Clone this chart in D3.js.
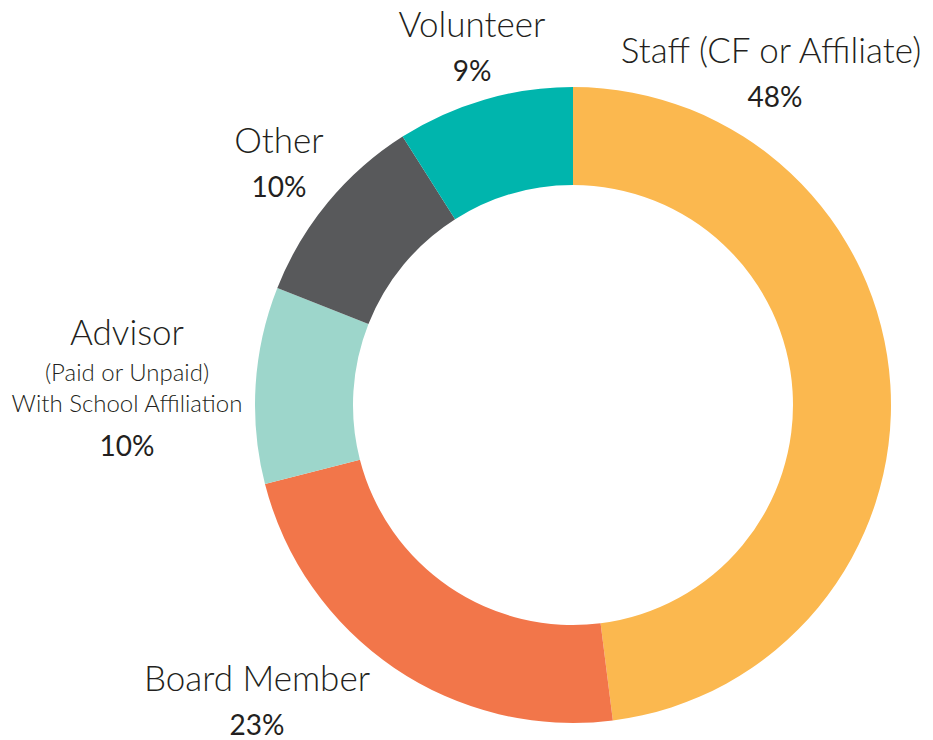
<!DOCTYPE html>
<html>
<head>
<meta charset="utf-8">
<script src="https://cdn.jsdelivr.net/npm/d3@7"></script>
<style>
	body { margin: 0; background: #fff; }
	text { font-family: Lato, "Noto Sans", sans-serif; fill: #231f20; }
</style>
</head>
<body>
<svg id="chart"></svg>
<script>
// slices, clockwise from 12 o'clock
let categories = ['Staff (CF or Affiliate)', 'Board Member', 'Advisor', 'Other', 'Volunteer'];
let values = [48, 23, 10, 10, 9];
let colors = ['#fbb84f', '#f2764a', '#9dd6cb', '#58595b', '#00b5ad'];

// label blocks: title lines, sub lines, percent
let labelLines = [
	['Staff (CF or Affiliate)'],
	['Board Member'],
	['Advisor'],
	['Other'],
	['Volunteer']
];
let subLines = [[], [], ['(Paid or Unpaid)', 'With School Affiliation'], [], []];
let pctLabels = ['48%', '23%', '10%', '10%', '9%'];

let w = 933, h = 740;
let cx = 573, cy = 405;
let outerR = 318, innerR = 220;

let chart = d3.select('#chart')
	.attr('width', w)
	.attr('height', h);

let data = categories.map((c, i) => ({ name: c, value: values[i], color: colors[i], idx: i }));

let pie = d3.pie()
	.sort(null)
	.value((d) => d.value);

let arc = d3.arc()
	.innerRadius(innerR)
	.outerRadius(outerR);

let g = chart.append('g')
	.attr('transform', `translate(${cx},${cy})`);

g.selectAll('path')
	.data(pie(data))
	.enter()
	.append('path')
	.attr('d', arc)
	.attr('fill', (d) => d.data.color);

// label anchor points (centre x, first baseline y)
let labelPos = [
	[771, 63],
	[257, 691],
	[127, 345],
	[279, 153],
	[472, 37]
];

data.forEach((d, i) => {
	let [x, y] = labelPos[i];
	let t = chart.append('g').attr('class', 'label');
	labelLines[i].forEach((line) => {
		t.append('text')
			.attr('x', x)
			.attr('y', y)
			.attr('text-anchor', 'middle')
			.style('font-size', '35px')
			.style('font-weight', 300)
			.text(line);
	});
	let yy = y;
	subLines[i].forEach((line) => {
		yy += (yy === y) ? 36 : 31;
		t.append('text')
			.attr('x', x)
			.attr('y', yy)
			.attr('text-anchor', 'middle')
			.style('font-size', '24px')
			.style('font-weight', 300)
			.text(line);
	});
	let py = subLines[i].length ? yy + 44 : y + 44;
	t.append('text')
		.attr('x', x + (i === 0 ? 4 : 0))
		.attr('y', py)
		.attr('text-anchor', 'middle')
		.style('font-size', '28px')
		.style('font-weight', 400)
		.text(pctLabels[i]);
});
</script>
</body>
</html>
